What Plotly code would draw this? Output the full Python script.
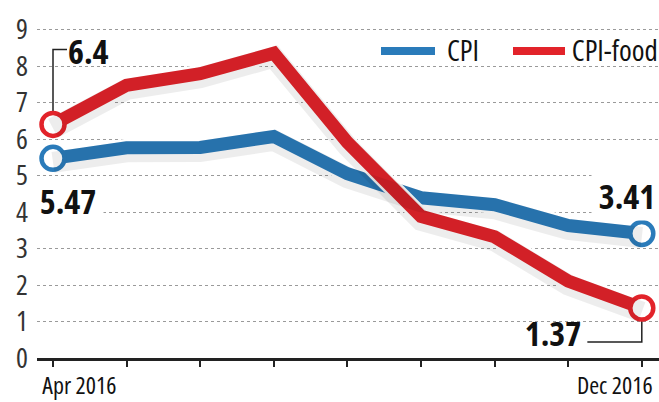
import plotly.graph_objects as go

# Monthly inflation, April to December 2016 (%)
months = ["Apr 2016", "May 2016", "Jun 2016", "Jul 2016", "Aug 2016",
          "Sep 2016", "Oct 2016", "Nov 2016", "Dec 2016"]
cpi = [5.47, 5.76, 5.77, 6.07, 5.05, 4.39, 4.20, 3.63, 3.41]
cpi_food = [6.40, 7.47, 7.79, 8.35, 5.91, 3.88, 3.32, 2.11, 1.37]
y_ticks = [0, 1, 2, 3, 4, 5, 6, 7, 8, 9]
x_tick_labels = ["Apr 2016", "Dec 2016"]

BLUE = "#2a7bba"
RED = "#e2232a"
FONT = "Open Sans, DejaVu Sans, sans-serif"

x = list(range(len(months)))
fig = go.Figure()

series = [("CPI", cpi, BLUE), ("CPI-food", cpi_food, RED)]

# soft drop shadow, drawn on an offset overlay axis
for name, vals, col in series:
    fig.add_trace(go.Scatter(x=x, y=vals, mode="lines", yaxis="y2",
                             line=dict(color="rgba(0,0,0,0.07)", width=21),
                             hoverinfo="skip", showlegend=False))

# white halo + coloured line
for name, vals, col in series:
    fig.add_trace(go.Scatter(x=x, y=vals, mode="lines",
                             line=dict(color="white", width=18),
                             hoverinfo="skip", showlegend=False))
    fig.add_trace(go.Scatter(x=x, y=vals, mode="lines", name=name,
                             line=dict(color=col, width=13),
                             showlegend=False))

# hollow end markers
for name, vals, col in series:
    fig.add_trace(go.Scatter(x=[x[0], x[-1]], y=[vals[0], vals[-1]], mode="markers",
                             marker=dict(size=23, color="white",
                                         line=dict(color=col, width=4.5)),
                             hoverinfo="skip", showlegend=False))

# value callouts (centred so the condensed width keeps them in place)
ann_font = dict(family=FONT, size=34, color="#111", weight=700)
annotations = [
    dict(x=x[0], y=cpi_food[0], text=f"{cpi_food[0]:g}", xshift=35, yshift=73),
    dict(x=x[0], y=cpi[0], text=f"{cpi[0]:g}", xshift=15, yshift=-43,
         bgcolor="white"),
    dict(x=x[-1], y=cpi[-1], text=f"{cpi[-1]:g}", xshift=-15, yshift=38,
         bgcolor="white"),
    dict(x=x[-1], y=cpi_food[-1], text=f"{cpi_food[-1]:g}", xshift=-89, yshift=-25),
]
for a in annotations:
    a.update(xref="x", yref="y", xanchor="center", yanchor="middle",
             showarrow=False, font=ann_font)

# x-axis end labels
tick_font = dict(family=FONT, size=24, color="#111")
annotations.append(dict(x=x[0], y=0, xref="x", yref="paper", text=x_tick_labels[0],
                        xanchor="center", yanchor="middle", xshift=26, yshift=-26,
                        showarrow=False, font=tick_font))
annotations.append(dict(x=x[-1], y=0, xref="x", yref="paper", text=x_tick_labels[1],
                        xanchor="center", yanchor="middle", xshift=-27, yshift=-26,
                        showarrow=False, font=tick_font))

# legend
leg_text_y = (358 - 49) / 358
leg_line_y = (358 - 51) / 358
leg_font = dict(family=FONT, size=29, color="#111")
annotations.append(dict(x=(463 - 37) / 622, y=leg_text_y, xref="paper", yref="paper",
                        text="CPI", xanchor="center", yanchor="middle",
                        showarrow=False, font=leg_font))
annotations.append(dict(x=(615 - 37) / 622, y=leg_text_y, xref="paper", yref="paper",
                        text="CPI-food", xanchor="center", yanchor="middle",
                        showarrow=False, font=leg_font))

shapes = [
    dict(type="line", xref="paper", yref="paper", x0=(381 - 37) / 622, x1=(435 - 37) / 622,
         y0=leg_line_y, y1=leg_line_y, line=dict(color=BLUE, width=8)),
    dict(type="line", xref="paper", yref="paper", x0=(513 - 37) / 622, x1=(565 - 37) / 622,
         y0=leg_line_y, y1=leg_line_y, line=dict(color=RED, width=8)),
    # callout bracket for the first CPI-food value
    dict(type="path", xref="x", yref="y", layer="below",
         path=f"M {x[0]},{cpi_food[0]} L {x[0]},8.45 L 0.19,8.45",
         line=dict(color="#222", width=1.5)),
    # callout bracket for the last CPI-food value
    dict(type="path", xref="x", yref="y", layer="below",
         path=f"M {x[-1]},{cpi_food[-1]} L {x[-1]},0.44 L 7.26,0.44",
         line=dict(color="#222", width=1.5)),
]

y_top = 358 / 36.5
shift = 4 / 36.5
fig.update_layout(
    width=659, height=402,
    margin=dict(l=37, r=0, t=0, b=44),
    paper_bgcolor="white", plot_bgcolor="white",
    showlegend=False,
    xaxis=dict(range=[-16 / 73.6, 606 / 73.6], tickvals=x, ticktext=[""] * len(x),
               ticks="outside", ticklen=6, tickwidth=1.5, tickcolor="#222",
               showline=True, linecolor="#222", linewidth=2.5,
               showgrid=False, zeroline=False, fixedrange=True),
    yaxis=dict(range=[0, y_top], tickvals=y_ticks, ticks="", showline=False,
               showgrid=True, gridcolor="#9a9a9a", gridwidth=1, griddash="dot",
               zeroline=False, ticklabelstandoff=8,
               tickfont=dict(family=FONT, size=28, color="#333")),
    yaxis2=dict(range=[shift, y_top + shift], overlaying="y", visible=False),
    annotations=annotations,
    shapes=shapes,
)

# condensed width for all chart text
condense = """
var gd = document.getElementById('{plot_id}');
gd.querySelectorAll('text').forEach(function (t) {
  t.style.fontStretch = 'condensed';
});
"""
fig.write_html("out.html", post_script=condense)
